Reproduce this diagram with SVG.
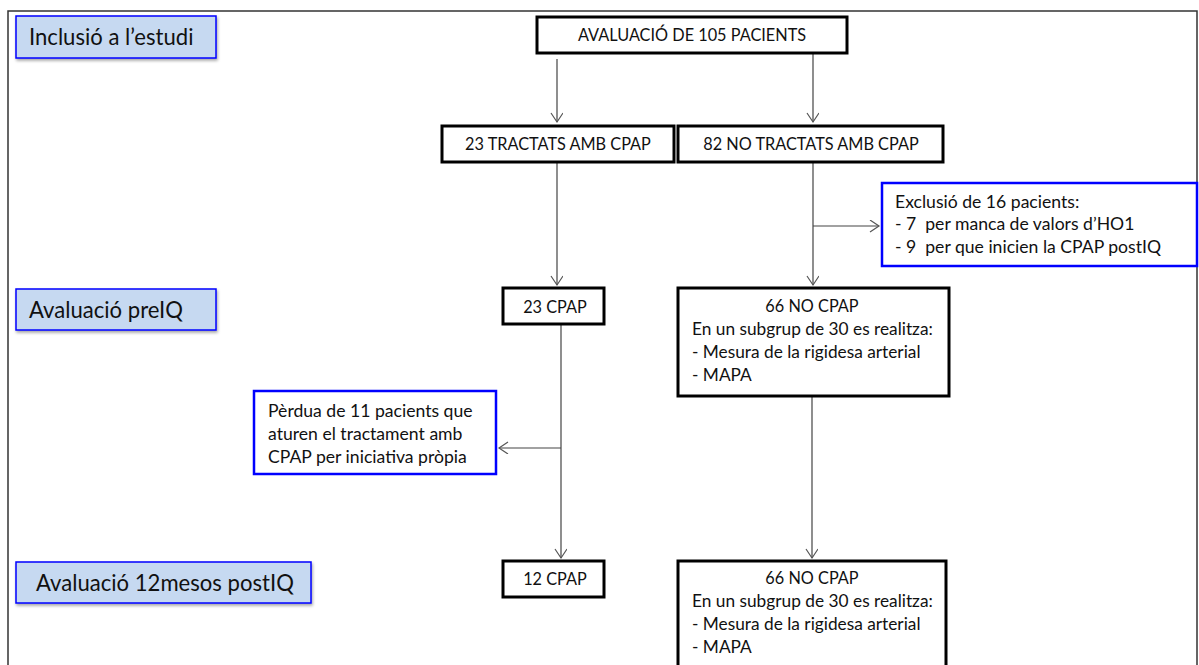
<svg xmlns="http://www.w3.org/2000/svg" width="1199" height="665" viewBox="0 0 1199 665">
<style>
text{font-family:Lato,"Open Sans","Liberation Sans",sans-serif;fill:#111}
.lbl rect{fill:#c6d9f1;stroke:#0000ff;stroke-width:1.5}
.lbl text{font-size:22.1px}
.box rect{fill:#fff;stroke:#000;stroke-width:3}
.box text{font-size:17.3px}
.box text.k{font-size:16.3px}
.note rect{fill:#fff;stroke:#0000ff;stroke-width:2.5}
.note text{font-size:17.6px}
.c{text-anchor:middle}
#connectors line{stroke:#444;stroke-width:1.2;fill:none}
</style>
<defs>
<marker id="arr" markerWidth="14" markerHeight="14" refX="10" refY="6" orient="auto" markerUnits="userSpaceOnUse">
<path d="M1,0 L10,6 L1,12" fill="none" stroke="#555" stroke-width="1.2"/>
</marker>
<filter id="sh" x="-10%" y="-20%" width="120%" height="150%">
<feDropShadow dx="1" dy="2" stdDeviation="1.5" flood-color="#000" flood-opacity="0.35"/>
</filter>
</defs>
<rect width="1199" height="665" fill="#fff"/>
<path d="M8,670 V11 H1197 V670" fill="none" stroke="#333" stroke-width="1.5"/>

<g id="connectors">
<line x1="557" y1="59" x2="557" y2="122" marker-end="url(#arr)"/>
<line x1="813" y1="53" x2="813" y2="122" marker-end="url(#arr)"/>
<line x1="557" y1="163" x2="557" y2="285" marker-end="url(#arr)"/>
<line x1="813" y1="163" x2="813" y2="285" marker-end="url(#arr)"/>
<line x1="813" y1="226" x2="879" y2="226" marker-end="url(#arr)"/>
<line x1="561" y1="325" x2="561" y2="558" marker-end="url(#arr)"/>
<line x1="561" y1="448" x2="499" y2="448" marker-end="url(#arr)"/>
<line x1="812" y1="397" x2="812" y2="558" marker-end="url(#arr)"/>
</g>

<g id="lbl-inclusio" class="lbl"><rect x="16" y="16" width="200" height="42" filter="url(#sh)"/><text x="29" y="45">Inclusió a l’estudi</text></g>
<g id="lbl-preiq" class="lbl"><rect x="16" y="289" width="200" height="41" filter="url(#sh)"/><text x="29" y="318">Avaluació preIQ</text></g>
<g id="lbl-postiq" class="lbl"><rect x="16" y="562" width="295" height="41" filter="url(#sh)"/><text x="36" y="591">Avaluació 12mesos postIQ</text></g>

<g id="n-avaluacio" class="box"><rect x="537" y="17" width="310" height="36"/><text class="c k" x="692" y="41">AVALUACIÓ DE 105 PACIENTS</text></g>
<g id="n-tractats" class="box"><rect x="442" y="126" width="232" height="36"/><text class="c k" x="558" y="150">23 TRACTATS AMB CPAP</text></g>
<g id="n-notractats" class="box"><rect x="678" y="126" width="265" height="36"/><text class="c k" x="811" y="150">82 NO TRACTATS AMB CPAP</text></g>

<g id="n-exclusio" class="note"><rect x="882" y="183" width="315" height="83"/>
<text x="895" y="208">Exclusió de 16 pacients:</text>
<text x="895" y="230" xml:space="preserve">- 7  per manca de valors d’HO1</text>
<text x="895" y="253" xml:space="preserve">- 9  per que inicien la CPAP postIQ</text></g>

<g id="n-23cpap" class="box"><rect x="503" y="288" width="101" height="36"/><text class="c k" x="555" y="313">23 CPAP</text></g>
<g id="n-66pre" class="box"><rect x="678" y="288" width="271" height="108"/>
<text class="c k" x="812" y="312">66 NO CPAP</text>
<text x="692" y="335">En un subgrup de 30 es realitza:</text>
<text x="692" y="358">- Mesura de la rigidesa arterial</text>
<text x="692" y="381">- MAPA</text></g>

<g id="n-perdua" class="note"><rect x="254" y="391" width="242" height="83"/>
<text x="268" y="417">Pèrdua de 11 pacients que</text>
<text x="268" y="440">aturen el tractament amb</text>
<text x="268" y="463">CPAP per iniciativa pròpia</text></g>

<g id="n-12cpap" class="box"><rect x="503" y="561" width="101" height="36"/><text class="c k" x="555" y="585">12 CPAP</text></g>
<g id="n-66post" class="box"><rect x="678" y="561" width="268" height="120"/>
<text class="c k" x="812" y="584">66 NO CPAP</text>
<text x="692" y="607">En un subgrup de 30 es realitza:</text>
<text x="692" y="630">- Mesura de la rigidesa arterial</text>
<text x="692" y="653">- MAPA</text></g>
</svg>
